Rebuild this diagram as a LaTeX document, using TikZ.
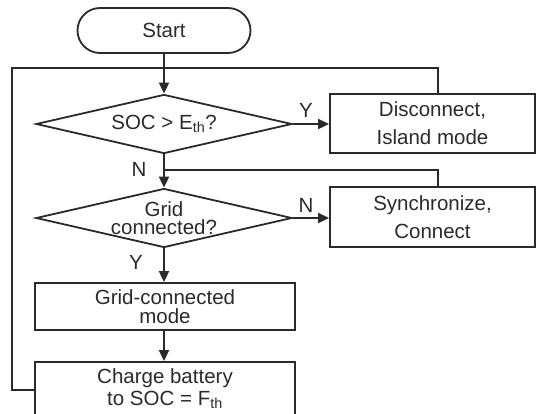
\documentclass[tikz,border=0pt]{standalone}
\usepackage{fontspec}
\setmainfont{Liberation Sans}
\usetikzlibrary{arrows.meta,shapes.geometric}
\definecolor{ink}{HTML}{2A2A2A}
\begin{document}
\begin{tikzpicture}[x=1pt,y=-1pt,
  line/.style={draw=ink, line width=1.8pt},
  arr/.style={line, -{Triangle[length=11pt,width=10pt]}},
  box/.style={draw=ink, line width=1.8pt, rectangle, inner sep=0pt, align=center, text=ink},
  term/.style={box, rounded corners=22.5pt, minimum width=173pt, minimum height=45pt},
  dec/.style={draw=ink, line width=1.8pt, diamond, aspect=4.34, inner sep=0pt, align=center, text=ink, minimum width=256pt, minimum height=59pt},
  lab/.style={text=ink, inner sep=0pt, font=\fontsize{20.5pt}{24pt}\selectfont},
  fa/.style={font=\fontsize{20.5pt}{28pt}\selectfont},
  fb/.style={font=\fontsize{20.5pt}{18.5pt}\selectfont},
  fc/.style={font=\fontsize{20.5pt}{22pt}\selectfont}]
\useasboundingbox (0,0) rectangle (536,413);
\clip (0,0) rectangle (536,413);
\node[term, fa] (start) at (164,30.5) {Start};
\node[dec, fa] (d1) at (164,124) {SOC > E\textsubscript{th}?};
\node[box, fa, minimum width=205pt, minimum height=59pt] (disc) at (432.5,123.5) {Disconnect,\\Island mode};
\node[dec, fb] (d2) at (164,218) {Grid\\connected?};
\node[box, fa, minimum width=205pt, minimum height=60pt] (sync) at (432.5,217) {Synchronize,\\Connect};
\node[box, fb, minimum width=260pt, minimum height=47pt] (gcm) at (165,306.5) {Grid-connected\\mode};
\node[box, fc, minimum width=260pt, minimum height=62pt] (charge) at (165,393) {Charge battery\\to SOC = F\textsubscript{th}\\[-10pt]};
\node[lab] (y1) at (306,110) {Y};
\node[lab] (n2) at (306,205) {N};
\node[lab] (n1) at (139,169) {N};
\node[lab] (y2) at (136,262) {Y};
\coordinate (lt) at (12,68);
\coordinate (lb) at (12,390);
\coordinate (rt) at (438,68);
\coordinate (mj) at (164,170);
\coordinate (rj) at (438,170);
\draw[arr] (start) -- (d1);
\draw[arr] (d1) -- (d2);
\draw[arr] (d1.east) -- (d1.east -| disc.west);
\draw[arr] (d2.east) -- (d2.east -| sync.west);
\draw[arr] (d2.south) -- (d2.south |- gcm.north);
\draw[arr] (gcm.south -| d2.south) -- (charge.north -| d2.south);
\draw[line] (lb -| charge.west) -- (lb) -- (lt) -- (rt) -- (rt |- disc.north);
\draw[line] (rj |- sync.north) -- (rj) -- (mj);
\end{tikzpicture}
\end{document}
